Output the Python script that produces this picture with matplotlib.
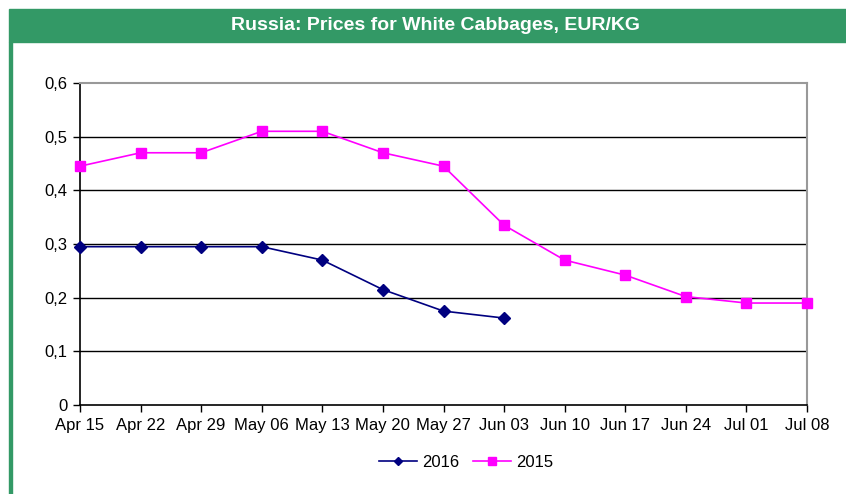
import matplotlib.pyplot as plt
from matplotlib.patches import Rectangle

plt.rcParams['font.family'] = ['Liberation Sans', 'DejaVu Sans']

semanas = ['Apr 15', 'Apr 22', 'Apr 29', 'May 06', 'May 13', 'May 20', 'May 27',
           'Jun 03', 'Jun 10', 'Jun 17', 'Jun 24', 'Jul 01', 'Jul 08']
precios_2016 = [0.295, 0.295, 0.295, 0.295, 0.27, 0.215, 0.175, 0.162]
precios_2015 = [0.445, 0.47, 0.47, 0.51, 0.51, 0.47, 0.445, 0.335, 0.27, 0.242,
                0.202, 0.19, 0.19]
y_ticks = [0, 0.1, 0.2, 0.3, 0.4, 0.5, 0.6]
y_labels = ['0', '0,1', '0,2', '0,3', '0,4', '0,5', '0,6']

W, H = 846, 494
fig = plt.figure(figsize=(W / 100, H / 100), dpi=100)

# barra verde del titulo y borde izquierdo
verde = '#339966'
fig.patches.append(Rectangle((9 / W, 1 - 42 / H), 1 - 9 / W, 33 / H,
                             transform=fig.transFigure, color=verde, zorder=0))
fig.patches.append(Rectangle((9 / W, 0), 2.5 / W, 1 - 42 / H,
                             transform=fig.transFigure, color=verde, zorder=0))
fig.text(435 / W, 1 - 26 / H, 'Russia: Prices for White Cabbages, EUR/KG',
         color='white', fontsize=14, fontweight='bold', ha='center', va='center')

ax = fig.add_axes([80 / W, 1 - 405 / H, (807 - 80) / W, (405 - 83) / H])
x = list(range(len(semanas)))

ax.plot(x[:len(precios_2016)], precios_2016, color='#000080', marker='D',
        markersize=6, linewidth=1.2, label='2016', zorder=3, clip_on=False)
ax.plot(x, precios_2015, color='#FF00FF', marker='s', markersize=7.5,
        linewidth=1.2, label='2015', zorder=3, clip_on=False)

ax.set_xlim(0, len(semanas) - 1)
ax.set_ylim(0, 0.6)
ax.set_xticks(x)
ax.set_xticklabels(semanas, fontsize=12)
ax.set_yticks(y_ticks)
ax.set_yticklabels(y_labels, fontsize=12)
ax.tick_params(direction='out', length=5, width=1, color='black', pad=4)

for v in y_ticks[1:-1]:
    ax.axhline(v, color='black', linewidth=1, zorder=1)

ax.spines['left'].set_color('black')
ax.spines['bottom'].set_color('black')
ax.spines['left'].set_linewidth(1.2)
ax.spines['bottom'].set_linewidth(1.2)
ax.spines['top'].set_color('#999999')
ax.spines['right'].set_color('#999999')
ax.spines['top'].set_linewidth(1.5)
ax.spines['right'].set_linewidth(1.5)

leg = ax.legend(loc='center', bbox_to_anchor=(466 / W, 1 - 462 / H),
                bbox_transform=fig.transFigure, ncol=2, frameon=False, fontsize=12,
                handlelength=2.3, handletextpad=0.3, columnspacing=0.8,
                markerscale=0.7)

plt.savefig('out.png', dpi=100)
